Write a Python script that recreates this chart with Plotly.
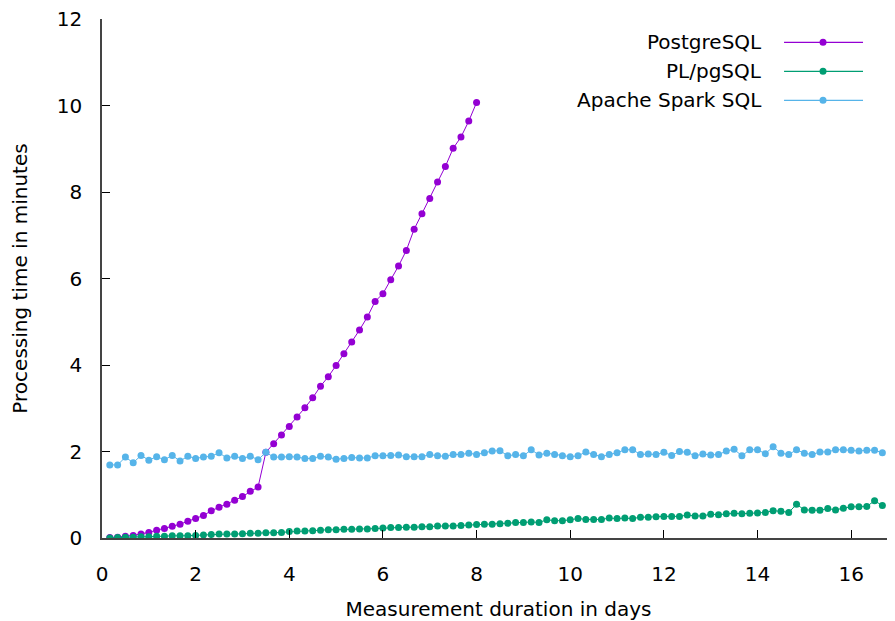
import plotly.graph_objects as go

# Measurement times in hours (every 4 hours)
hours = [4, 8, 12, 16, 20, 24, 28, 32, 36, 40, 44, 48, 52, 56, 60, 64, 68, 72, 76, 80,
         84, 88, 92, 96, 100, 104, 108, 112, 116, 120, 124, 128, 132, 136, 140, 144, 148, 152, 156, 160,
         164, 168, 172, 176, 180, 184, 188, 192, 196, 200, 204, 208, 212, 216, 220, 224, 228, 232, 236, 240,
         244, 248, 252, 256, 260, 264, 268, 272, 276, 280, 284, 288, 292, 296, 300, 304, 308, 312, 316, 320,
         324, 328, 332, 336, 340, 344, 348, 352, 356, 360, 364, 368, 372, 376, 380, 384, 388, 392, 396, 400]

postgres = [0.01, 0.02, 0.04, 0.06, 0.09, 0.13, 0.18, 0.22, 0.27, 0.32,
            0.39, 0.45, 0.52, 0.63, 0.71, 0.78, 0.87, 0.96, 1.08, 1.18,
            1.98, 2.18, 2.38, 2.58, 2.80, 3.01, 3.24, 3.51, 3.73, 3.99,
            4.26, 4.53, 4.81, 5.11, 5.47, 5.65, 5.97, 6.29, 6.65, 7.14,
            7.50, 7.85, 8.23, 8.59, 9.01, 9.27, 9.64, 10.07]

plpgsql = [0.00, 0.01, 0.02, 0.02, 0.03, 0.03, 0.04, 0.04, 0.05, 0.05,
           0.05, 0.06, 0.07, 0.08, 0.09, 0.09, 0.09, 0.10, 0.11, 0.11,
           0.12, 0.12, 0.13, 0.15, 0.16, 0.16, 0.17, 0.18, 0.19, 0.19,
           0.20, 0.20, 0.21, 0.21, 0.22, 0.23, 0.24, 0.24, 0.25, 0.25,
           0.26, 0.26, 0.28, 0.28, 0.28, 0.29, 0.30, 0.31, 0.32, 0.32,
           0.33, 0.34, 0.36, 0.36, 0.37, 0.36, 0.42, 0.40, 0.40, 0.42,
           0.45, 0.43, 0.43, 0.43, 0.46, 0.45, 0.46, 0.45, 0.48, 0.48,
           0.49, 0.50, 0.50, 0.50, 0.53, 0.51, 0.51, 0.55, 0.54, 0.56,
           0.57, 0.56, 0.57, 0.58, 0.59, 0.63, 0.62, 0.59, 0.78, 0.65,
           0.64, 0.64, 0.68, 0.65, 0.69, 0.72, 0.72, 0.73, 0.86, 0.75]

spark = [1.69, 1.69, 1.87, 1.74, 1.91, 1.80, 1.88, 1.81, 1.91, 1.78,
         1.89, 1.84, 1.87, 1.89, 1.97, 1.85, 1.89, 1.84, 1.89, 1.81,
         1.98, 1.87, 1.87, 1.88, 1.87, 1.84, 1.84, 1.89, 1.87, 1.82,
         1.84, 1.86, 1.85, 1.85, 1.90, 1.90, 1.91, 1.92, 1.88, 1.88,
         1.88, 1.93, 1.90, 1.89, 1.93, 1.93, 1.96, 1.93, 1.97, 2.01,
         2.02, 1.90, 1.93, 1.90, 2.04, 1.92, 1.96, 1.93, 1.90, 1.88,
         1.90, 1.99, 1.93, 1.88, 1.93, 1.97, 2.04, 2.04, 1.93, 1.94,
         1.93, 1.98, 1.91, 2.00, 1.98, 1.90, 1.94, 1.92, 1.93, 2.01,
         2.05, 1.90, 2.04, 2.04, 1.95, 2.11, 1.96, 1.93, 2.04, 1.96,
         1.93, 1.99, 1.99, 2.04, 2.04, 2.03, 2.01, 2.03, 2.03, 1.97]

series_names = ["PostgreSQL", "PL/pgSQL", "Apache Spark SQL"]
series_colors = ["#9400D3", "#009E73", "#56B4E9"]
x_ticks = [0, 2, 4, 6, 8, 10, 12, 14, 16]
y_ticks = [0, 2, 4, 6, 8, 10, 12]

days = [h / 24 for h in hours]

W, H = 895, 621
OFF = 8  # page body margin of the browser
# plot area in page pixels
PL, PR, PT, PB = 101.7, 895.0, 19.0, 537.7
ML, MT = PL - OFF, PT - OFF
MR = W - (PR - OFF)
MB = H - (PB - OFF)
FONT = "DejaVu Sans"
FS = 20

fig = go.Figure()
for name, vals, col in zip(series_names, [postgres, plpgsql, spark], series_colors):
    fig.add_trace(go.Scatter(
        x=days[:len(vals)], y=vals, name=name, mode="lines+markers",
        line=dict(color=col, width=1),
        marker=dict(color=col, size=7, symbol="circle"),
        showlegend=False,
    ))

pw, ph = PR - PL, PB - PT

def px2paper(px, py):
    return (px - PL) / pw, (PB - py) / ph

# Legend (text on the left, key on the right)
annotations = []
shapes = []
rows_y = [42.3, 71.3, 100.3]
for name, col, ry in zip(series_names, series_colors, rows_y):
    tx, ty = px2paper(764, ry)
    annotations.append(dict(x=tx, y=ty, xref="paper", yref="paper", text=name,
                            showarrow=False, xanchor="right", yanchor="middle",
                            font=dict(family=FONT, size=FS, color="black")))
    x0, y0 = px2paper(784, ry)
    x1, _ = px2paper(863, ry)
    shapes.append(dict(type="line", xref="paper", yref="paper", x0=x0, x1=x1, y0=y0, y1=y0,
                       line=dict(color=col, width=1.3)))
    cx, cy = px2paper(823, ry)
    shapes.append(dict(type="circle", xref="paper", yref="paper",
                       xsizemode="pixel", ysizemode="pixel", xanchor=cx, yanchor=cy,
                       x0=-3.5, x1=3.5, y0=-3.5, y1=3.5,
                       fillcolor=col, line=dict(color=col, width=0)))

x_max = pw / 46.84

fig.update_layout(
    width=W, height=H,
    margin=dict(l=ML, r=MR, t=MT, b=MB, pad=0),
    paper_bgcolor="white", plot_bgcolor="white",
    font=dict(family=FONT, size=FS, color="black"),
    annotations=annotations, shapes=shapes,
    xaxis=dict(
        range=[0, x_max], tickmode="array", tickvals=x_ticks, ticktext=[str(t) for t in x_ticks],
        ticks="inside", ticklen=8, tickwidth=1, tickcolor="black",
        showline=True, linecolor="#444444", linewidth=1.5,
        showgrid=False, zeroline=False, automargin=False,
        ticklabelstandoff=17, ticklabeloverflow="allow",
        title=dict(text="Measurement duration in days", standoff=17,
                   font=dict(family=FONT, size=FS)),
    ),
    yaxis=dict(
        range=[0, 12], tickmode="array", tickvals=y_ticks, ticktext=[str(t) for t in y_ticks],
        ticks="inside", ticklen=8, tickwidth=1, tickcolor="black",
        showline=True, linecolor="#444444", linewidth=1.5,
        showgrid=False, zeroline=False, automargin=False,
        ticklabelstandoff=14, ticklabeloverflow="allow",
        title=dict(text="Processing time in minutes", standoff=28,
                   font=dict(family=FONT, size=FS)),
    ),
)

fig.write_html("out.html")
